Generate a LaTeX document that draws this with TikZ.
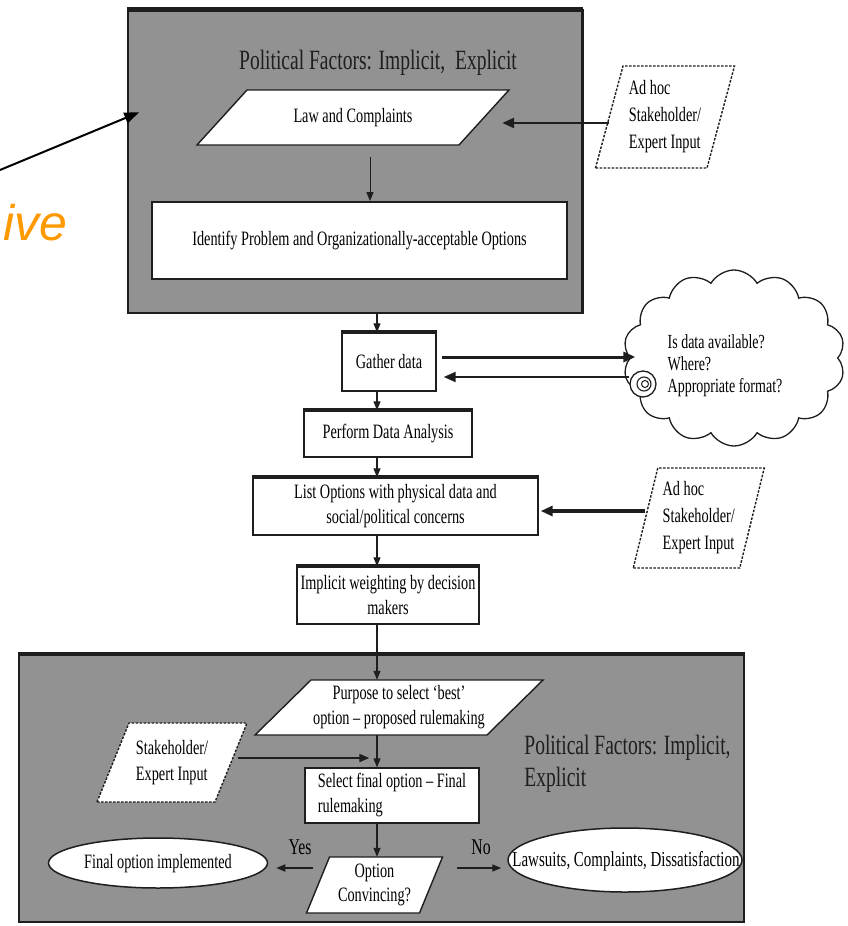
\documentclass[tikz,border=0pt]{standalone}
\usepackage{fontspec}
\setmainfont{Liberation Serif}[FakeStretch=0.7]
\newfontfamily\calloutfont{Liberation Sans}
\usetikzlibrary{arrows.meta,shapes.geometric,shapes.symbols,calc}

\definecolor{panel}{RGB}{146,146,146}
\definecolor{ink}{RGB}{30,30,30}
\definecolor{callout}{RGB}{255,153,0}

\tikzset{
  panelbox/.style={draw=ink, line width=1.5pt, fill=panel, inner sep=0pt},
  stepbox/.style={draw=ink, line width=1.4pt, fill=white, inner sep=2pt, align=center,
    font=\fontsize{20.4}{25}\selectfont},
  boxtext/.style={inner sep=0pt, align=center, font=\fontsize{20.4}{25}\selectfont},
  pgshape/.style={draw=ink, line width=1.4pt, fill=white},
  inputshape/.style={draw=ink, line width=1.4pt, fill=white, dash pattern=on 2.5pt off 1.5pt},
  flow/.style={draw=ink, line width=1.2pt, -{Triangle[length=9pt,width=7pt]}},
  feed/.style={draw=ink, line width=2.5pt, -{Triangle[length=12pt,width=10pt]}},
  terminal/.style={ellipse, draw=ink, line width=1.5pt, fill=white, inner sep=0pt},
  heading/.style={inner sep=0pt, font=\fontsize{27.9}{32}\selectfont, text=ink},
}

% parallelogram: name, centre x, centre y, mid width, height, slant, path style, text style, text
\newcommand\flowpgram[9]{%
  \path[#7] ({#2-#4/2-#6/2},{#3+#5/2}) -- ({#2+#4/2-#6/2},{#3+#5/2})
     -- ({#2+#4/2+#6/2},{#3-#5/2}) -- ({#2-#4/2+#6/2},{#3-#5/2}) -- cycle;
  \node[boxtext, minimum width=#4pt, minimum height=#5pt, #8] (#1) at (#2,#3) {#9};
}

\begin{document}
\begin{tikzpicture}[x=1pt,y=-1pt]
\useasboundingbox (0,0) rectangle (848,926);
\fill[white] (0,0) rectangle (848,926);

% shaded panels
\node[panelbox, minimum width=454pt, minimum height=303pt] (toppanel) at (355,161.5) {};
\draw[ink, line width=4.5pt] (toppanel.north west) -- (toppanel.north east);
\draw[ink, line width=2.5pt] (toppanel.north east) -- (toppanel.south east);
\node[panelbox, minimum width=725pt, minimum height=267pt] (botpanel) at (381.5,788.5) {};
\draw[ink, line width=4pt] (botpanel.north west) -- (botpanel.north east);

% callout fragment
\node[font=\calloutfont\itshape\fontsize{50}{54}\selectfont, text=callout,
      anchor=base east, inner sep=0pt] (ive) at (68,240) {ive};
\coordinate (lead) at (0,170);

% upper panel contents
\node[heading] (toptitle) at (378,63) {Political Factors: Implicit,\ \ Explicit};
\flowpgram{law}{353}{117.5}{262}{55}{50}{pgshape}{}{Law and Complaints}
\node[stepbox, line width=1.8pt, minimum width=415pt, minimum height=77pt] (ident)
  at (359.5,240.5) {Identify Problem and Organizationally-acceptable Options};
\flowpgram{adhoca}{665}{117}{111.5}{102}{27.5}{inputshape}
  {align=left, font=\fontsize{20.4}{27}\selectfont}{Ad hoc\\Stakeholder/\\Expert Input}

% middle column
\node[stepbox, minimum width=94pt, minimum height=58pt] (gather) at (389,362) {Gather data};
\node[stepbox, minimum width=168pt, minimum height=46pt] (perform) at (388,434) {Perform Data Analysis};
\node[stepbox, minimum width=285pt, minimum height=57pt] (list) at (395.5,506.5)
  {List Options with physical data and\\social/political concerns};
\node[stepbox, inner sep=0.5pt, minimum width=182pt, minimum height=57pt] (implicit) at (388,595.5)
  {Implicit weighting by decision\\makers};
\foreach \b in {gather,perform,list,implicit}
  \draw[ink, line width=4pt] (\b.north west) -- (\b.north east);

% data question cloud
\node[cloud, draw=ink, line width=1.3pt, fill=white, cloud puffs=14, cloud puff arc=120,
      cloud ignores aspect, minimum width=222pt, minimum height=176pt] (cloud) at (734,358) {};
\node[circle, draw=ink, line width=1.3pt, fill=white, minimum size=26pt, inner sep=0pt] (tail) at (643,384) {};
\node[circle, draw=ink, line width=1.1pt, minimum size=14pt, inner sep=0pt] (tailring) at (644,384) {};
\node[circle, draw=ink, line width=1pt, minimum size=7pt, inner sep=0pt] (taildot) at (645,384) {};
\node[boxtext, align=left, font=\fontsize{20}{22}\selectfont] (cloudtext) at (725,366)
  {Is data available?\\Where?\\Appropriate format?};

\flowpgram{adhocb}{698.75}{518}{106.5}{100}{24.5}{inputshape}
  {align=left, font=\fontsize{20.4}{27}\selectfont}{Ad hoc\\Stakeholder/\\Expert Input}

% lower panel contents
\flowpgram{purpose}{399}{707.5}{232}{55}{56}{pgshape}{}
  {Purpose to select ‘best’\\option – proposed rulemaking}
\flowpgram{stake}{172}{762.5}{118}{79}{32}{inputshape}{align=left, font=\fontsize{20.4}{26}\selectfont}
  {Stakeholder/\\Expert Input}
\node[stepbox, align=left, minimum width=174pt, minimum height=55pt] (select) at (392,795.5)
  {Select final option – Final\\rulemaking};
\flowpgram{option}{374.5}{885}{113}{56}{23}{pgshape}{font=\fontsize{20.4}{24}\selectfont}
  {Option\\Convincing?}
\node[heading, align=left] (bottitle) at (627.5,764) {Political Factors: Implicit,\\Explicit};

\node[terminal, minimum width=219pt, minimum height=50pt] (final) at (158,863) {};
\node[boxtext] (finaltext) at (158,864) {Final option implemented};
\node[terminal, minimum width=234pt, minimum height=64pt] (laws) at (625,860) {};
\node[boxtext, font=\fontsize{21.4}{24}\selectfont] (lawstext) at (626,861)
  {Lawsuits, Complaints, Dissatisfaction};
\node[boxtext, font=\fontsize{22.5}{25}\selectfont] (yes) at (300,847) {Yes};
\node[boxtext, font=\fontsize{22.5}{25}\selectfont] (no) at (481,847) {No};

% connectors
\draw[draw=black, line width=2pt, -{Triangle[length=15pt,width=11pt]}]
  (lead) -- ($(toppanel.north west)+(12,103)$);
\draw[flow, line width=1pt] ($(370,0 |- law.south)+(0,12)$) -- (370,0 |- ident.north);
\draw[feed] (adhoca.west |- 0,123) -- ($(law.east |- 0,123)+(18,0)$);

\draw[flow] (377,0 |- toppanel.south) -- (377,0 |- gather.north);
\draw[flow] (377,0 |- gather.south) -- (377,0 |- perform.north);
\draw[flow] (377,0 |- perform.south) -- (377,0 |- list.north);
\draw[flow] (377,0 |- list.south) -- (377,0 |- implicit.north);
\draw[flow] (377,0 |- implicit.south) -- (377,0 |- purpose.north);
\draw[flow] (377,0 |- purpose.south) -- (377,0 |- select.north);
\draw[flow] (377,0 |- select.south) -- (377,0 |- option.north);

\draw[feed, line width=3pt] ($(gather.east |- 0,357)+(5,0)$) -- ($(cloud.west |- 0,357)+(6,0)$);
\draw[feed, line width=2pt] (tail.west |- 0,377) -- ($(gather.east |- 0,377)+(7,0)$);
\draw[feed, line width=3.5pt] (adhocb.west |- 0,511) -- ($(list.east |- 0,511)+(2,0)$);
\draw[feed, line width=2pt, -{Triangle[length=10pt,width=8pt]}]
  ($(stake.east |- 0,758)+(7,0)$) -- ($(select.west |- 0,758)+(65,0)$);
\draw[flow, line width=1.6pt] ($(option.west |- 0,868)+(-5,0)$) -- ($(final.east |- 0,868)+(8,0)$);
\draw[flow, line width=1.6pt] ($(option.east |- 0,868)+(26,0)$) -- ($(laws.west |- 0,868)+(-6,0)$);
\end{tikzpicture}
\end{document}
